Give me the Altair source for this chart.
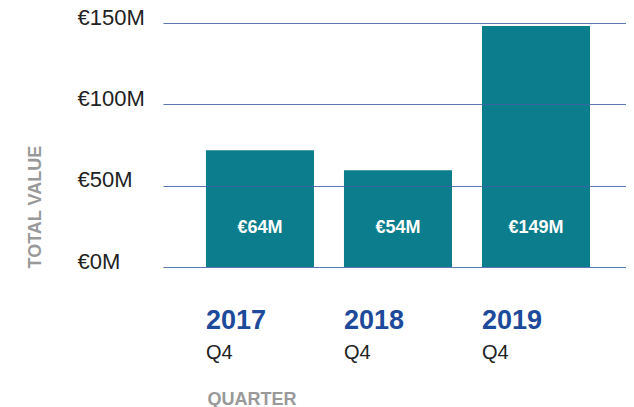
import altair as alt
import pandas as pd

years = ["2017", "2018", "2019"]
quarters = ["Q4", "Q4", "Q4"]
bar_values = [71.8, 59.5, 148.2]          # bar heights in €M as drawn
bar_labels = ["€64M", "€54M", "€149M"]    # printed labels
y_ticks = [0, 50, 100, 150]

df = pd.DataFrame({"year": years, "quarter": quarters,
                   "value": bar_values, "label": bar_labels})

FONT = "Liberation Sans"
PLOT_W, PLOT_H = 463, 244

x_enc = alt.X(
    "year:N",
    sort=years,
    scale=alt.Scale(paddingInner=0.2174, paddingOuter=0.286, align=0.544),
    axis=alt.Axis(
        title="QUARTER",
        titleFont=FONT, titleFontSize=18, titleFontWeight="bold", titleColor="#999999",
        titleX=44, titleY=137, titleAlign="left", titleBaseline="alphabetic", titleAngle=0,
        labelFont=FONT, labelFontSize=27, labelFontWeight="bold", labelColor="#1d4a9a",
        labelAlign="left", labelBaseline="alphabetic", labelOffset=-54, labelPadding=61,
        labelAngle=0,
        ticks=False, domain=False, grid=False,
    ),
)

bars = alt.Chart(df).mark_bar(color="#0b7d8c").encode(
    x=x_enc,
    y=alt.Y(
        "value:Q",
        scale=alt.Scale(domain=[0, 150], nice=False),
        axis=alt.Axis(
            values=y_ticks,
            labelExpr="'€' + datum.value + 'M'",
            title="TOTAL VALUE",
            titleFont=FONT, titleFontSize=18, titleFontWeight="bold", titleColor="#999999",
            titleAngle=270, titleX=-128, titleY=245, titleAlign="left", titleBaseline="middle",
            labelFont=FONT, labelFontSize=22, labelColor="#222222",
            labelAlign="left", labelBaseline="alphabetic", labelPadding=86, labelOffset=1,
            ticks=False, domain=False,
            grid=True, gridColor="#3f62a6", gridWidth=1.2, gridOpacity=0.85,
            zindex=1,
        ),
    ),
)

value_text = alt.Chart(df).mark_text(
    font=FONT, fontSize=18, fontWeight="bold", color="white",
    align="center", baseline="alphabetic",
).encode(
    x=alt.X("year:N", sort=years),
    y=alt.value(210),
    text="label:N",
)

quarter_text = alt.Chart(df).mark_text(
    font=FONT, fontSize=20, color="#222222",
    align="left", baseline="alphabetic", dx=-54,
).encode(
    x=alt.X("year:N", sort=years),
    y=alt.value(336),
    text="quarter:N",
)

chart = alt.layer(bars, value_text, quarter_text).properties(
    width=PLOT_W, height=PLOT_H,
    autosize=alt.AutoSizeParams(type="none"),
    padding={"left": 155, "top": 15, "right": 0, "bottom": 140},
).configure(background="white").configure_view(strokeWidth=0).configure_axis(domain=False)

chart.save("out.html", embed_options={"renderer": "svg", "actions": False})
